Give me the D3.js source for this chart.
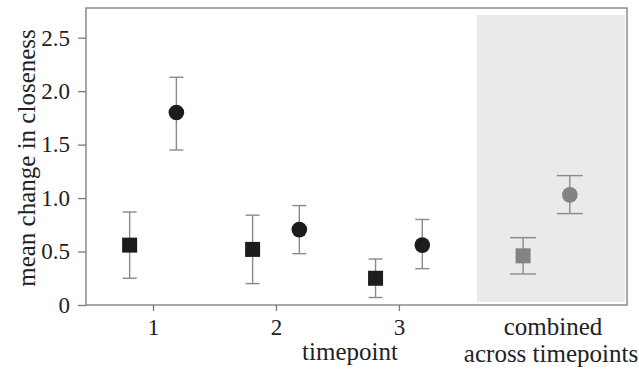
<!DOCTYPE html>
<html lang="en">
<head>
  <meta charset="UTF-8">
  <title>closeness</title>
  <style>
    body { margin: 0; background: #fff; }
  </style>
</head>
<body>
  <svg id="chart" width="639" height="369"></svg>
  <script src="https://cdn.jsdelivr.net/npm/d3@7/dist/d3.min.js"></script>
  <script>
  // data
  var groups = ['1', '2', '3', 'combined'];
  var groupPos = [1, 2, 3, 4.2];
  var squareMean = [0.56, 0.52, 0.25, 0.46];
  var squareLo   = [0.25, 0.20, 0.07, 0.29];
  var squareHi   = [0.87, 0.84, 0.43, 0.63];
  var circleMean = [1.80, 0.705, 0.56, 1.03];
  var circleLo   = [1.45, 0.48, 0.34, 0.855];
  var circleHi   = [2.13, 0.93, 0.80, 1.21];
  var yTicks = [0, 0.5, 1.0, 1.5, 2.0, 2.5];

  var FONT = 'Liberation Serif, Tinos, serif';
  var pLeft = 86, pRight = 627, pTop = 8, pBottom = 305;
  var svg = d3.select('#chart');

  var x = d3.scaleLinear().domain([0.455, 4.855]).range([pLeft, pRight]);
  var y = d3.scaleLinear().domain([0, 2.5]).range([pBottom, 37.7]);

  // shaded "combined" panel
  svg.append('rect')
    .attr('x', 477).attr('y', 15)
    .attr('width', 148).attr('height', 287)
    .attr('fill', '#e9eaea');

  // frame
  svg.append('rect')
    .attr('x', pLeft).attr('y', pTop)
    .attr('width', pRight - pLeft).attr('height', pBottom - pTop)
    .attr('fill', 'none').attr('stroke', '#7a7a7a').attr('stroke-width', 1.3);

  // y axis
  var yAxis = d3.axisLeft(y).tickValues(yTicks).tickSize(8).tickPadding(8)
    .tickFormat(d => d === 0 ? '0' : d3.format('.1f')(d));
  var gy = svg.append('g').attr('transform', `translate(${pLeft},0)`).call(yAxis);
  gy.select('.domain').remove();
  gy.selectAll('line').attr('stroke', '#7a7a7a').attr('stroke-width', 1.3);
  gy.selectAll('text').attr('fill', '#222')
    .style('font-family', FONT).style('font-size', '23px');

  // x axis: ticks for timepoints only
  var xAxis = d3.axisBottom(x).tickValues(groupPos.slice(0, 3)).tickSize(6).tickPadding(8)
    .tickFormat((d, i) => groups[i]);
  var gx = svg.append('g').attr('transform', `translate(0,${pBottom})`).call(xAxis);
  gx.select('.domain').remove();
  gx.selectAll('line').attr('stroke', '#7a7a7a').attr('stroke-width', 1.3);
  gx.selectAll('text').attr('fill', '#222')
    .style('font-family', FONT).style('font-size', '23px');

  function label(xp, yp, txt) {
    return svg.append('text').attr('x', xp).attr('y', yp).attr('text-anchor', 'middle')
      .attr('fill', '#222').style('font-family', FONT).style('font-size', '25px').text(txt);
  }
  label(553, 335, 'combined');
  label(551, 362, 'across timepoints');
  label(350, 360, 'timepoint');
  svg.append('text')
    .attr('transform', `translate(35,158) rotate(-90)`)
    .attr('text-anchor', 'middle').attr('fill', '#222')
    .style('font-family', FONT).style('font-size', '25px')
    .text('mean change in closeness');

  // marks
  var off = 0.19;
  var rows = groups.map((g, i) => ({
    pos: groupPos[i], combined: i === 3,
    sq: [squareMean[i], squareLo[i], squareHi[i]],
    ci: [circleMean[i], circleLo[i], circleHi[i]]
  }));

  function errBar(sel, cx, lo, hi, cap) {
    sel.append('line').attr('x1', cx).attr('x2', cx).attr('y1', y(lo)).attr('y2', y(hi));
    sel.append('line').attr('x1', cx - cap).attr('x2', cx + cap).attr('y1', y(lo)).attr('y2', y(lo));
    sel.append('line').attr('x1', cx - cap).attr('x2', cx + cap).attr('y1', y(hi)).attr('y2', y(hi));
  }

  var g = svg.append('g');
  rows.forEach(r => {
    var cap = r.combined ? 13 : 7;
    var col = r.combined ? '#838383' : '#1c1c1c';
    var eb = g.append('g').attr('stroke', '#8a8a8a').attr('stroke-width', 1.4);
    var sx = x(r.pos - off), cx = x(r.pos + off);
    errBar(eb, sx, r.sq[1], r.sq[2], cap);
    errBar(eb, cx, r.ci[1], r.ci[2], cap);
    g.append('rect').attr('x', sx - 7.5).attr('y', y(r.sq[0]) - 7.5)
      .attr('width', 15).attr('height', 15).attr('fill', col);
    g.append('circle').attr('cx', cx).attr('cy', y(r.ci[0])).attr('r', 7.8).attr('fill', col);
  });
  </script>
</body>
</html>
